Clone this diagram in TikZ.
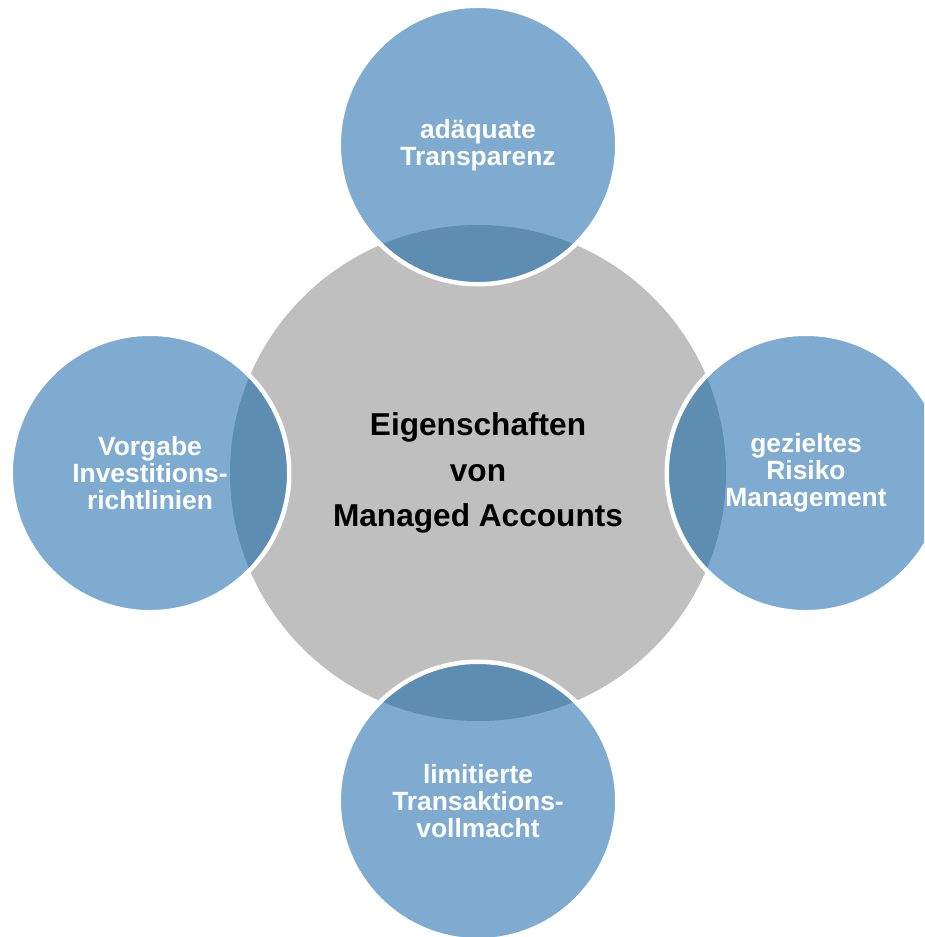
\documentclass[tikz,border=0pt]{standalone}
\usepackage{fontspec}
\setmainfont{Liberation Sans}
\usetikzlibrary{positioning}

\definecolor{subblue}{RGB}{127,171,208}
\definecolor{cutblue}{RGB}{94,141,178}
\definecolor{coregray}{RGB}{191,191,191}

\begin{document}
\begin{tikzpicture}[
    core/.style={circle, fill=coregray, minimum size=9.92cm, inner sep=0pt,
        align=center, font=\fontsize{18}{26}\selectfont\bfseries},
    sub/.style={circle, fill=subblue, draw=white, line width=2.55pt,
        minimum size=5.57cm, inner sep=0pt, align=center, text=white,
        font=\fontsize{15}{15.5}\selectfont\bfseries,
        path picture={\fill[cutblue] (core.center) circle (4.96cm);}}
    ]
    %% Background
    \useasboundingbox (0,0) rectangle (18.48,-18.74);
    \clip (0,0) rectangle (18.48,-18.74);

    %% Centre
    \node[core] (core) at (9.56,-9.46) {Eigenschaften\\von\\Managed Accounts};

    %% Satellites
    \node[sub, on grid, above=6.56cm of core] (transp) {ad\"aquate\\Transparenz};
    \node[sub, on grid, right=6.56cm of core] (risiko) {gezieltes\\Risiko\\Management};
    \node[sub, on grid, below=6.56cm of core] (vollm) {limitierte\\Transaktions-\\vollmacht};
    \node[sub, on grid, left=6.56cm of core] (invest) {Vorgabe\\Investitions-\\richtlinien};

\end{tikzpicture}
\end{document}
